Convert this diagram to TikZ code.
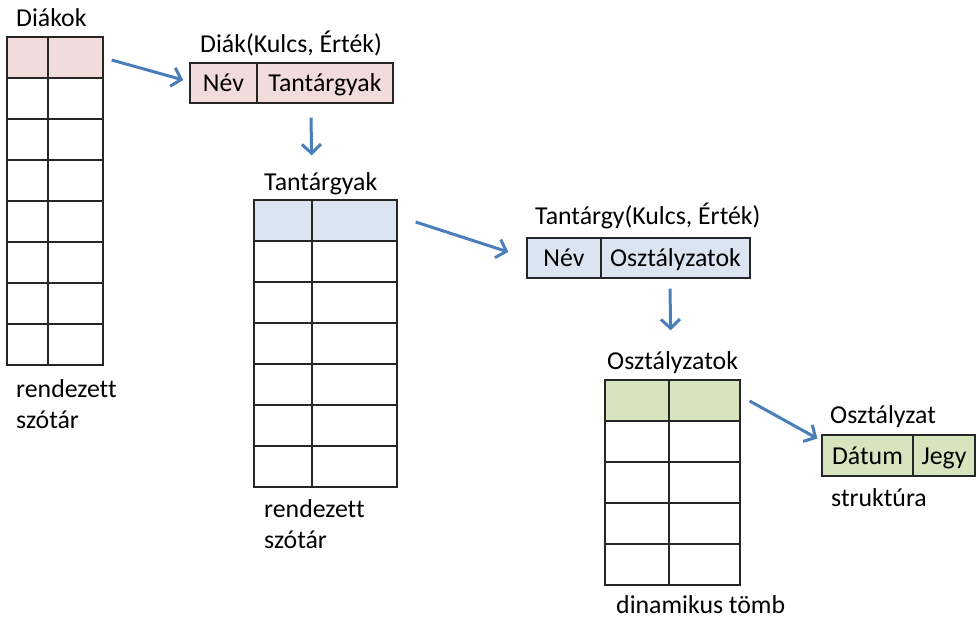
\documentclass[tikz,border=0pt]{standalone}
\usepackage{fontspec}
\setmainfont{Carlito}[Ligatures=NoCommon]
\usetikzlibrary{arrows.meta}
\definecolor{diakpink}{HTML}{F2DCDB}
\definecolor{targyblue}{HTML}{DBE5F1}
\definecolor{jegygreen}{HTML}{D7E4BD}
\definecolor{arrowblue}{HTML}{4A7EBB}

\begin{document}
\begin{tikzpicture}[x=1pt,y=-1pt,>={Straight Barb[length=9pt,width=19pt]},
    font=\fontsize{25.8}{31}\selectfont]
    \tikzstyle{cell}=[rectangle,draw=black!85,line width=1.3pt,inner sep=0pt,minimum height=41pt]
    \tikzstyle{field}=[cell,minimum height=40pt,text height=19pt,text depth=2pt]
    \tikzstyle{lbl}=[inner sep=0pt,anchor=base west]
    \tikzstyle{note}=[inner sep=0pt,anchor=south west,align=left,text depth=0pt]
    \tikzstyle{link}=[->,line width=3pt,draw=arrowblue]
    \useasboundingbox (0,0) rectangle (978,624);

    % Diakok: rendezett szotar
    \node[lbl](diakok) at (16,26) {Diákok};
    \node[cell,fill=diakpink,minimum width=41pt](diakok-1-a) at (27.5,57.5) {};
    \node[cell,fill=diakpink,minimum width=55pt](diakok-1-b) at (75.5,57.5) {};
    \foreach \i in {2,...,8} {
      \node[cell,minimum width=41pt](diakok-\i-a) at (27.5,{37+41*(\i-0.5)}) {};
      \node[cell,minimum width=55pt](diakok-\i-b) at (75.5,{37+41*(\i-0.5)}) {};
    }
    \node[note](diakokfajta) at (16,429) {rendezett\\szótár};

    % Diak rekord
    \node[lbl](diakcim) at (200,52) {Diák(Kulcs, Érték)};
    \node[field,fill=diakpink,minimum width=67pt](diak-a) at (223.5,83) {Név};
    \node[field,fill=diakpink,minimum width=136pt](diak-b) at (325,83) {Tantárgyak};

    % Tantargyak: rendezett szotar
    \node[lbl](tantargyak) at (264,190) {Tantárgyak};
    \node[cell,fill=targyblue,minimum width=58pt](tantargyak-1-a) at (283,220.5) {};
    \node[cell,fill=targyblue,minimum width=85pt](tantargyak-1-b) at (354.5,220.5) {};
    \foreach \i in {2,...,7} {
      \node[cell,minimum width=58pt](tantargyak-\i-a) at (283,{200+41*(\i-0.5)}) {};
      \node[cell,minimum width=85pt](tantargyak-\i-b) at (354.5,{200+41*(\i-0.5)}) {};
    }
    \node[note](tantargyakfajta) at (264,549) {rendezett\\szótár};

    % Tantargy rekord
    \node[lbl](tantargycim) at (535,224) {Tantárgy(Kulcs, Érték)};
    \node[field,fill=targyblue,minimum width=74pt](tantargy-a) at (564,258) {Név};
    \node[field,fill=targyblue,minimum width=149pt](tantargy-b) at (675.5,258) {Osztályzatok};

    % Osztalyzatok: dinamikus tomb
    \node[lbl](osztalyzatok) at (607,369) {Osztályzatok};
    \node[cell,fill=jegygreen,minimum width=64pt](osztalyzatok-1-a) at (637,400.5) {};
    \node[cell,fill=jegygreen,minimum width=71pt](osztalyzatok-1-b) at (704.5,400.5) {};
    \foreach \i in {2,...,5} {
      \node[cell,minimum width=64pt](osztalyzatok-\i-a) at (637,{380+41*(\i-0.5)}) {};
      \node[cell,minimum width=71pt](osztalyzatok-\i-b) at (704.5,{380+41*(\i-0.5)}) {};
    }
    \node[lbl](osztalyzatokfajta) at (616,613) {dinamikus tömb};

    % Osztalyzat struktura
    \node[lbl](osztalyzatcim) at (830,423) {Osztályzat};
    \node[field,fill=jegygreen,minimum width=91pt,minimum height=41pt](osztalyzat-a) at (867.5,455.5) {Dátum};
    \node[field,fill=jegygreen,minimum width=62pt,minimum height=41pt](osztalyzat-b) at (944,455.5) {Jegy};
    \node[lbl](osztalyzatfajta) at (831,506) {struktúra};

    % nyilak
    \draw[link] ([shift={(8,2.5)}]diakok-1-b.east) -- ([shift={(-6,-3)}]diak-a.west);
    \draw[link] ([shift={(-14,14)}]diak-b.south) -- ([shift={(-1,-44)}]tantargyak-1-a.north east);
    \draw[link] ([shift={(18,1.5)}]tantargyak-1-b.east) -- ([shift={(-18,-6)}]tantargy-a.west);
    \draw[link] ([shift={(-5.5,10)}]tantargy-b.south) -- ([shift={(1,-49)}]osztalyzatok-1-a.north east);
    \draw[link] ([shift={(9,0.5)}]osztalyzatok-1-b.east) -- ([shift={(-4,-17)}]osztalyzat-a.west);
\end{tikzpicture}
\end{document}
